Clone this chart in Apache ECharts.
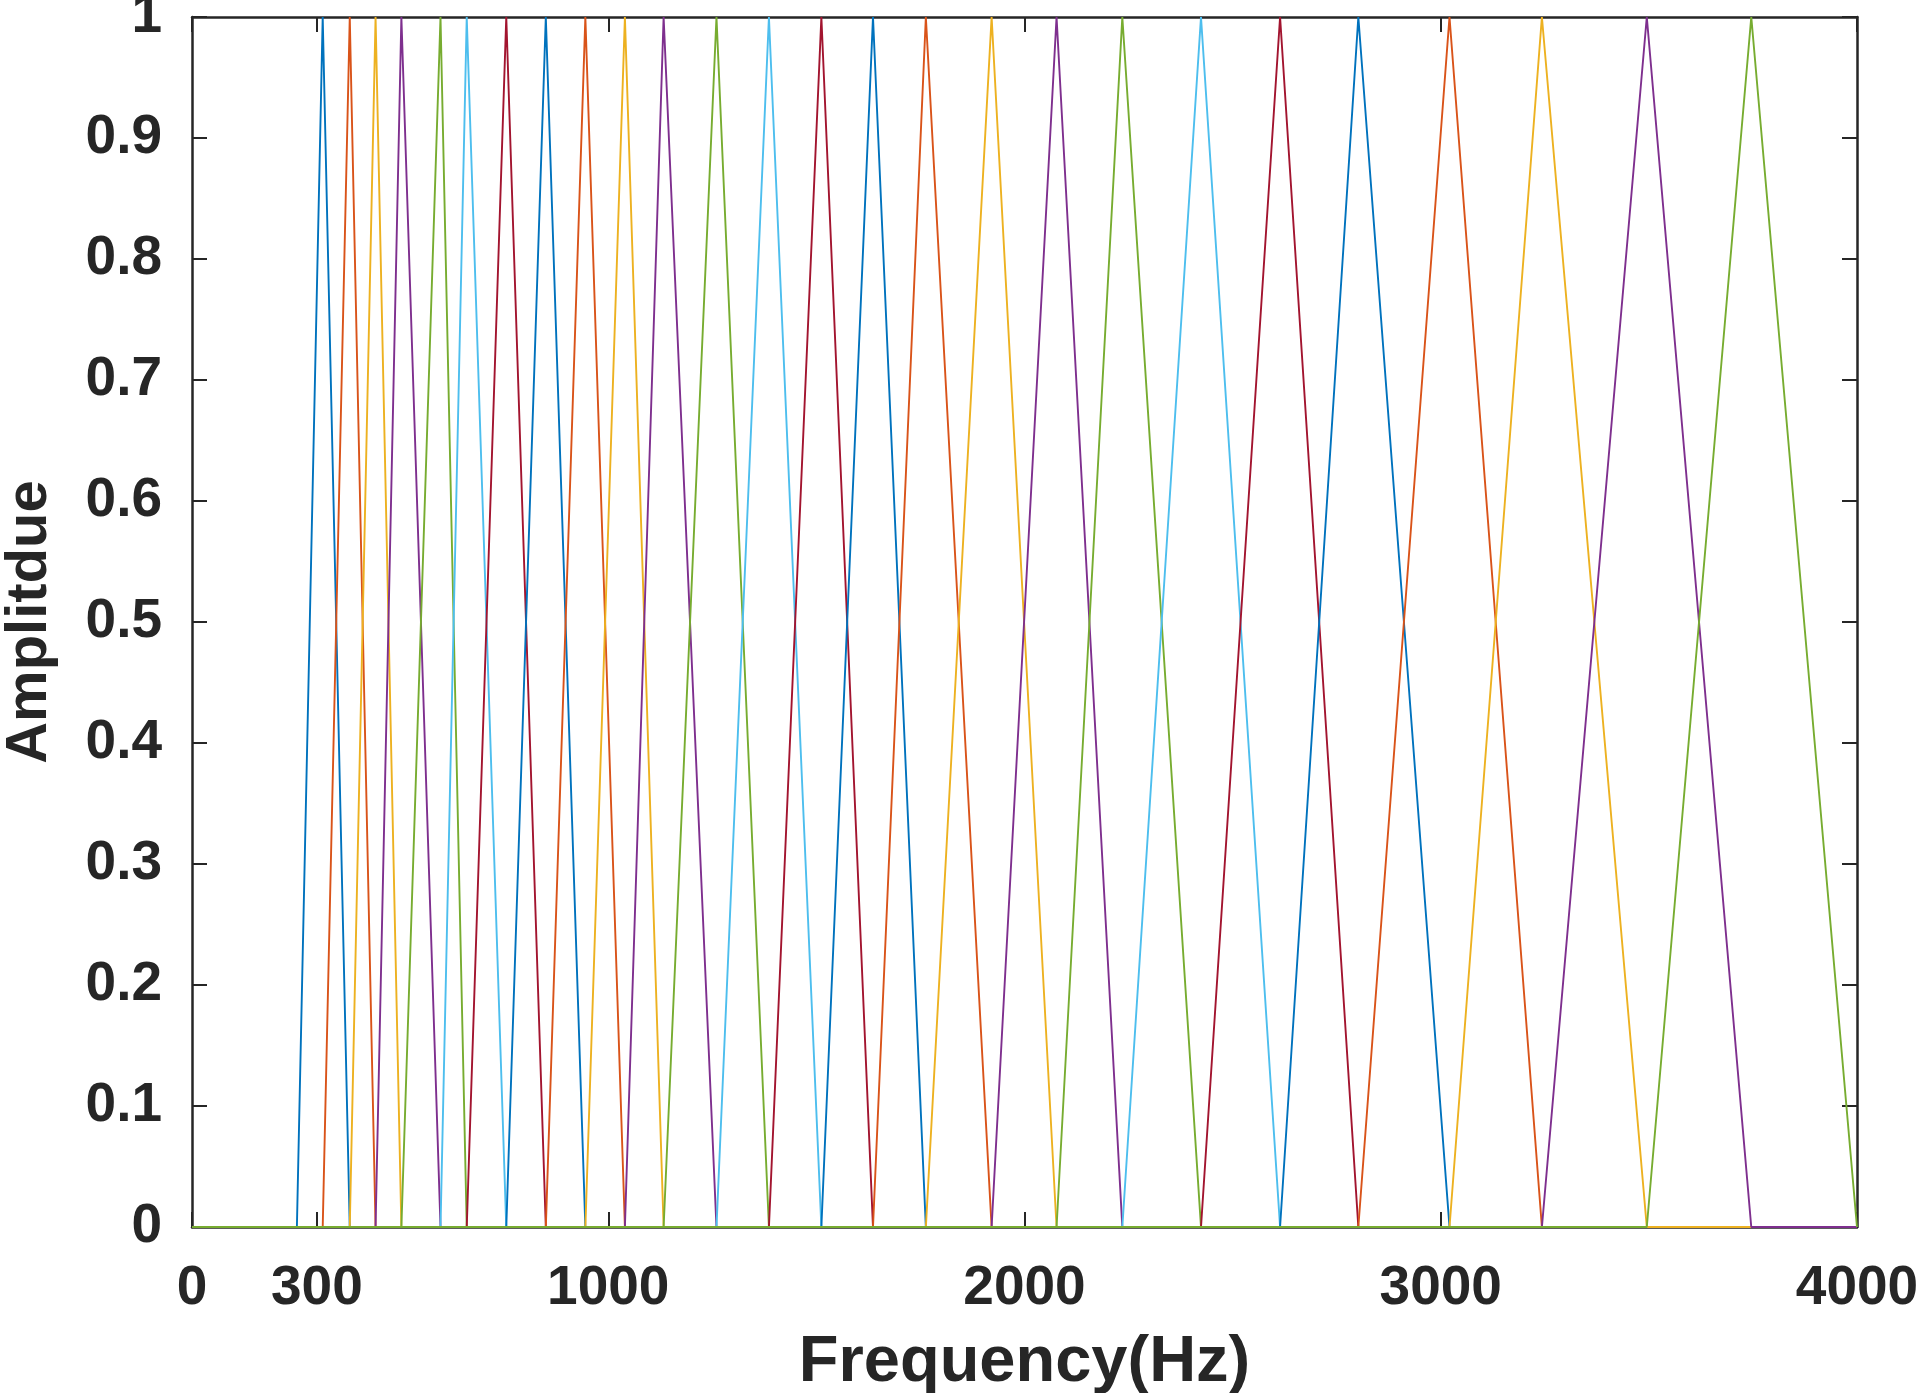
<!DOCTYPE html>
<html lang="en">
<head>
  <meta charset="UTF-8">
  <title>Mel Filter Bank</title>
  <script src="https://cdn.jsdelivr.net/npm/echarts@6/dist/echarts.min.js"></script>
  <style>
    html, body {
      margin: 0;
      padding: 0;
      background: #ffffff;
    }
    #chart {
      width: 1920px;
      height: 1393px;
    }
  </style>
</head>
<body>
  <div id="chart"></div>

  <script>
    // filter edge frequencies (Hz): filter i rises from edges[i], peaks at edges[i+1], falls to edges[i+2]
    const edges = [252, 314, 379, 441, 503, 597, 660, 755, 850, 945, 1040, 1133, 1260, 1386,
                   1512, 1636, 1763, 1921, 2077, 2235, 2424, 2614, 2802, 3021, 3243, 3495, 3746, 4000];
    const xTicks = [0, 300, 1000, 2000, 3000, 4000];
    const freqRange = [0, 4000];
    const colors = ['#0072BD', '#D95319', '#EDB120', '#7E2F8E', '#77AC30', '#4DBEEE', '#A2142F'];

    const axisColor = '#262626';
    const fontFamily = '"Liberation Sans", Arial, sans-serif';

    const series = [];
    for (let i = 0; i + 2 < edges.length; i++) {
      series.push({
        type: 'line',
        name: 'filter ' + (i + 1),
        showSymbol: false,
        symbol: 'none',
        data: [
          [freqRange[0], 0],
          [edges[i], 0],
          [edges[i + 1], 1],
          [edges[i + 2], 0],
          [freqRange[1], 0]
        ],
        lineStyle: { width: 1.9, color: colors[i % colors.length] },
        itemStyle: { color: colors[i % colors.length] },
        z: 3
      });
    }

    const chart = echarts.init(document.getElementById('chart'));

    const tickStyle = { inside: true, length: 15, lineStyle: { color: axisColor, width: 2 } };
    const lineStyle = { show: true, onZero: false, lineStyle: { color: axisColor, width: 2.5 } };

    chart.setOption({
      backgroundColor: '#ffffff',
      animation: false,
      color: colors,
      grid: { left: 192, right: 63, top: 17, bottom: 166, outerBoundsMode: 'none', containLabel: false },
      xAxis: [
        {
          type: 'value',
          min: freqRange[0],
          max: freqRange[1],
          position: 'bottom',
          name: 'Frequency(Hz)',
          nameLocation: 'middle',
          nameGap: 104,
          nameTextStyle: {
            color: axisColor,
            fontSize: 65,
            fontWeight: 'bold',
            fontFamily: fontFamily
          },
          axisLine: lineStyle,
          axisTick: Object.assign({ customValues: xTicks }, tickStyle),
          axisLabel: {
            customValues: xTicks,
            margin: 34,
            color: axisColor,
            fontSize: 55,
            fontWeight: 'bold',
            fontFamily: fontFamily,
            formatter: function (v) { return String(v); }
          },
          splitLine: { show: false }
        },
        {
          type: 'value',
          min: freqRange[0],
          max: freqRange[1],
          position: 'top',
          axisLine: lineStyle,
          axisTick: Object.assign({ customValues: xTicks }, tickStyle),
          axisLabel: { show: false },
          splitLine: { show: false }
        }
      ],
      yAxis: [
        {
          type: 'value',
          min: 0,
          max: 1,
          interval: 0.1,
          position: 'left',
          name: 'Amplitdue',
          nameLocation: 'middle',
          nameGap: 133,
          nameTextStyle: {
            color: axisColor,
            fontSize: 58,
            fontWeight: 'bold',
            fontFamily: fontFamily
          },
          axisLine: lineStyle,
          axisTick: tickStyle,
          axisLabel: {
            margin: 30,
            color: axisColor,
            fontSize: 55,
            fontWeight: 'bold',
            fontFamily: fontFamily,
            formatter: function (v) { return String(Math.round(v * 10) / 10); }
          },
          splitLine: { show: false }
        },
        {
          type: 'value',
          min: 0,
          max: 1,
          interval: 0.1,
          position: 'right',
          axisLine: lineStyle,
          axisTick: tickStyle,
          axisLabel: { show: false },
          splitLine: { show: false }
        }
      ],
      series: series
    });
  </script>
</body>
</html>
